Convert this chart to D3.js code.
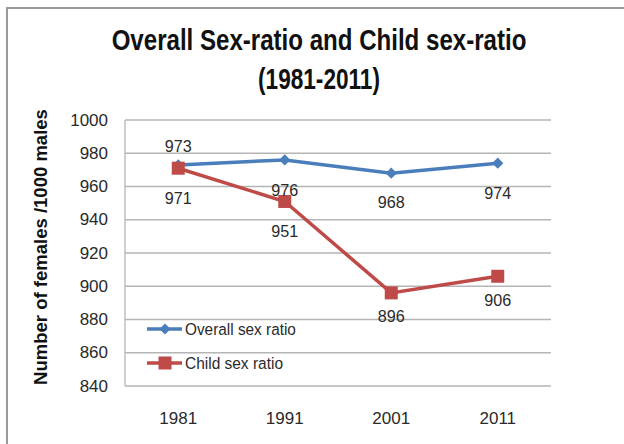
<!DOCTYPE html>
<html><head><meta charset="utf-8">
<script src="https://cdn.jsdelivr.net/npm/d3@7"></script>
<style>body{margin:0;background:#fff}svg{display:block}</style>
</head><body>
<svg id="c" width="624" height="444" font-family="'Liberation Sans', Arial, sans-serif"></svg>
<script>
const categories = ["1981","1991","2001","2011"];
const overall = [973,976,968,974];
const child = [971,951,896,906];
const yTicks = [840,860,880,900,920,940,960,980,1000];
const seriesNames = ["Overall sex ratio","Child sex ratio"];

const F = "'Liberation Sans', Arial, sans-serif";
const svg = d3.select("#c");
svg.append("rect").attr("x",7).attr("y",8).attr("width",640).attr("height",460)
  .attr("fill","#fff").attr("stroke","#9a9a9a").attr("stroke-width",2);

// place text at (x,y) with anchor, squeezed horizontally to width w, optional rotation
function fitText(parent, str, x, y, w, size, opts={}) {
  const gg = parent.append("g");
  const t = gg.append("text").attr("font-size",size).attr("fill",opts.fill||"#2a2a2a")
    .attr("font-weight",opts.bold?"bold":null).attr("text-anchor",opts.anchor||"start").text(str);
  const nat = t.node().getComputedTextLength();
  const sx = w / nat;
  gg.attr("transform",`translate(${x},${y})${opts.rotate?` rotate(${opts.rotate})`:""} scale(${sx},1)`);
  return gg;
}

const L=125,R=551,T=120,B=386;
const x = d3.scaleBand().domain(categories).range([L,R]);
const y = d3.scaleLinear().domain([840,1000]).range([B,T]);
const cx = d => x(d)+x.bandwidth()/2;

const g = svg.append("g");
g.selectAll("line").data(yTicks).join("line")
  .attr("x1",L).attr("x2",R).attr("y1",d=>y(d)).attr("y2",d=>y(d))
  .attr("stroke","#b5b5b5").attr("stroke-width",1.3);
g.append("line").attr("x1",L).attr("x2",L).attr("y1",T).attr("y2",B).attr("stroke","#b5b5b5").attr("stroke-width",1.3);

const yAxis = d3.axisLeft(y).tickValues(yTicks).tickSize(0).tickPadding(17).tickFormat(d3.format("d"));
const ya = svg.append("g").attr("transform",`translate(${L},0)`).call(yAxis);
ya.attr("font-family",F).attr("font-size",17);
ya.select(".domain").remove();
ya.selectAll("text").attr("fill","#2a2a2a").attr("dy","0.3em");

const xAxis = d3.axisBottom(x).tickSize(0).tickPadding(26);
const xa = svg.append("g").attr("transform",`translate(0,${B})`).call(xAxis);
xa.attr("font-family",F).attr("font-size",17);
xa.select(".domain").remove();
xa.selectAll("text").attr("fill","#2a2a2a");

const blue="#4a7ebb", red="#be4b48";
const line = d3.line().x((d,i)=>cx(categories[i])).y(d=>y(d));
svg.append("path").datum(overall).attr("d",line).attr("fill","none").attr("stroke",blue).attr("stroke-width",3.5);
svg.append("path").datum(child).attr("d",line).attr("fill","none").attr("stroke",red).attr("stroke-width",3.5);

const diamond = d3.symbol().type(d3.symbolDiamond2).size(80);
svg.append("g").selectAll("path").data(overall).join("path")
  .attr("transform",(d,i)=>`translate(${cx(categories[i])},${y(d)})`)
  .attr("d",diamond()).attr("fill",blue);
svg.append("g").selectAll("rect").data(child).join("rect")
  .attr("x",(d,i)=>cx(categories[i])-6.5).attr("y",d=>y(d)-6.5)
  .attr("width",13).attr("height",13).attr("fill",red);

const labG = svg.append("g");
const lab = (arr, offs) => arr.forEach((d,i)=>
  fitText(labG, String(d), cx(categories[i]), y(d)+offs[i], 27, 17, {anchor:"middle"}));
lab(overall,[-13,36,35,36]);
lab(child,[36,36,29,30]);

// legend
const lg = svg.append("g");
[[blue,"d",111],[red,"s",98]].forEach((c,i)=>{
  const ly = 329 + i*34;
  lg.append("line").attr("x1",147).attr("x2",182).attr("y1",ly).attr("y2",ly).attr("stroke",c[0]).attr("stroke-width",3.5);
  if(c[1]==="d") lg.append("path").attr("transform",`translate(165,${ly})`).attr("d",diamond()).attr("fill",c[0]);
  else lg.append("rect").attr("x",158.5).attr("y",ly-6.5).attr("width",13).attr("height",13).attr("fill",c[0]);
  fitText(lg, seriesNames[i], 185, ly+6, c[2], 17);
});

fitText(svg, "Overall Sex-ratio and Child sex-ratio", 319, 50, 415, 30, {bold:true, anchor:"middle", fill:"#111"});
fitText(svg, "(1981-2011)", 319, 89, 122, 30, {bold:true, anchor:"middle", fill:"#111"});
fitText(svg, "Number of females /1000 males", 47, 247, 276, 19, {bold:true, anchor:"middle", fill:"#111", rotate:-90});
</script>
</body></html>
